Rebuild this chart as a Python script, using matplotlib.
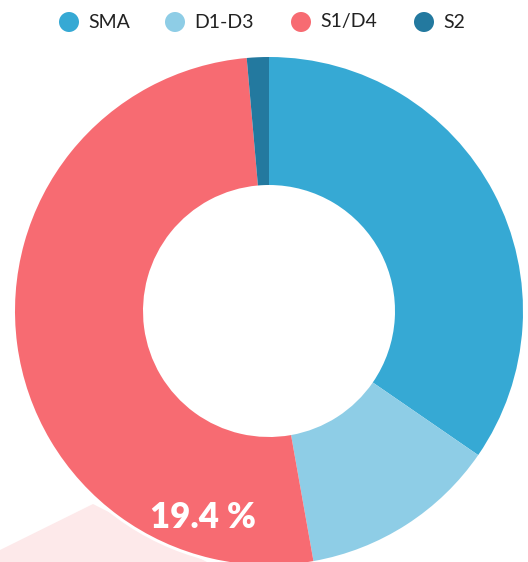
import matplotlib
matplotlib.use('Agg')
import matplotlib.pyplot as plt
from matplotlib.patches import Polygon, Circle

# slice shares in percent
labels = ['SMA', 'D1-D3', 'S1/D4', 'S2']
values = [34.6, 12.6, 51.4, 1.4]
colors = ['#36a9d4', '#8ecde6', '#f76b72', '#23799f']
label_text = '19.4 %'

W, H = 528, 562
fig = plt.figure(figsize=(W / 100, H / 100), dpi=100)
ax = fig.add_axes([0, 0, 1, 1])
ax.set_xlim(0, W)
ax.set_ylim(0, H)
ax.set_aspect('equal')
ax.axis('off')

cx, cy = 269, H - 311
r_out, r_in = 254, 126

# faded hover shape behind the donut
ax.add_patch(Polygon([(0, H - 550), (93, H - 504), (207, H - 562), (0, H - 562)],
                     closed=True, facecolor='#fde9ea', edgecolor='none', zorder=0))
ax.add_patch(Circle((cx, cy), r_out + 3, facecolor='white', edgecolor='none', zorder=1))

wedges, _ = ax.pie(values, colors=colors, startangle=90, counterclock=False,
                   center=(cx, cy), radius=r_out, frame=True,
                   wedgeprops=dict(width=r_out - r_in, edgecolor='none', zorder=2))
for w in wedges:
    w.set_zorder(2)
ax.set_xlim(0, W)
ax.set_ylim(0, H)
ax.axis('off')

ax.text(203, H - 517, label_text, color='white', fontsize=25, fontweight='heavy',
        family=['Lato', 'DejaVu Sans'], ha='center', va='center', zorder=3)

# legend
leg_x = [69, 175, 301, 424]
for x, lab, col in zip(leg_x, labels, colors):
    ax.add_patch(Circle((x, H - 22), 10, facecolor=col, edgecolor='none', zorder=3))
    ax.text(x + 19, H - 22, lab, fontsize=14, family=['Lato', 'DejaVu Sans'],
            color='#222222', ha='left', va='center', zorder=3)

fig.savefig('out.png', dpi=100)
